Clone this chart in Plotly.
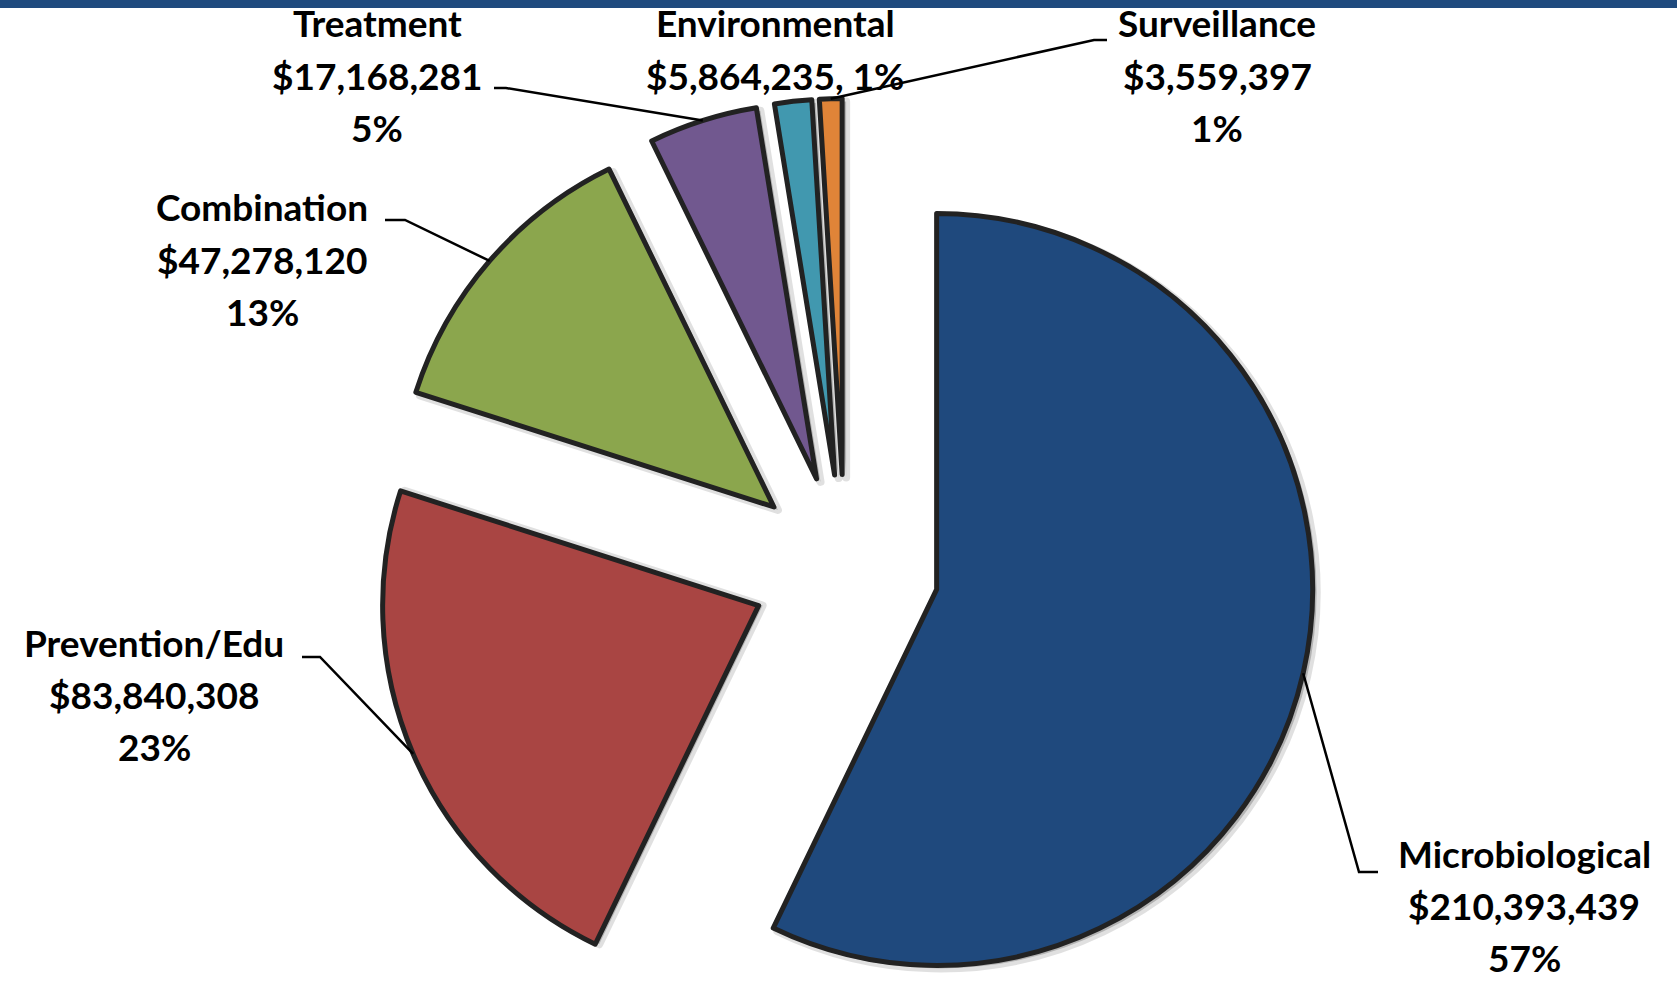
import math
import plotly.graph_objects as go

# ---- data -------------------------------------------------------------
categories = ["Microbiological", "Prevention/Edu", "Combination",
              "Treatment", "Environmental", "Surveillance"]
funding = [210393439, 83840308, 47278120, 17168281, 5864235, 3559397]
pct_labels = ["57%", "23%", "13%", "5%", "1%", "1%"]
colors = ["#1F497D", "#A94543", "#8BA64D", "#71588F", "#4198AF", "#E08438"]

# ---- geometry (pixels, origin top-left) ----------------------------------
W, H = 1677, 982
CX, CY = 845, 568.5    # common centre of the exploded pie
R = 376                # slice radius
PULL = 94              # explode distance of every slice
OUTLINE = "#222222"

total = sum(funding)
n = len(funding)

# mid angle of each slice, clockwise from 12 o'clock
mids = []
acc = 0.0
for v in funding:
    frac = v / total
    mids.append((acc + frac / 2) * 2 * math.pi)
    acc += frac


def unit(theta):
    return math.sin(theta), -math.cos(theta)


apex = []
for th in mids:
    ux, uy = unit(th)
    apex.append((CX + PULL * ux, CY + PULL * uy))


def px(x):
    return x / W


def py(y):
    return 1 - y / H


def clamp(v):
    return min(1.0, max(0.0, v))


def slice_trace(i, dx=0.0, dy=0.0, fill=None, line_color=OUTLINE, line_width=5.0):
    ax, ay = apex[i]
    ax += dx
    ay += dy
    dom_x = [clamp(px(ax - R)), clamp(px(ax + R))]
    dom_y = [clamp(py(ay + R)), clamp(py(ay - R))]
    fills = ["rgba(0,0,0,0)"] * n
    fills[i] = fill if fill is not None else colors[i]
    widths = [0] * n
    widths[i] = line_width
    return go.Pie(
        values=funding,
        labels=categories,
        sort=False,
        direction="clockwise",
        rotation=0,
        domain=dict(x=dom_x, y=dom_y),
        marker=dict(colors=fills, line=dict(color=line_color, width=widths)),
        textinfo="none",
        hoverinfo="label+value+percent",
        showlegend=False,
    )


fig = go.Figure()

# soft drop shadows first (kept inside the page), then the slices on top
for i in range(n):
    room = H - 0.5 - (apex[i][1] + R)
    sdy = max(0.0, min(3.0, room))
    fig.add_trace(slice_trace(i, dx=4, dy=sdy, fill="rgba(0,0,0,0.20)",
                              line_color="rgba(0,0,0,0.12)", line_width=8))
for i in range(n):
    fig.add_trace(slice_trace(i))

# ---- labels --------------------------------------------------------------
FONT = dict(family="Lato, Open Sans, sans-serif", size=37, color="#000000", weight="bold")
LINE_GAP = 52

# centre x and y of the first text line for each category
label_anchor = {
    "Microbiological": (1524, 853),
    "Prevention/Edu": (154, 642),
    "Combination": (262, 207),
    "Treatment": (377, 23),
    "Environmental": (775, 23),
    "Surveillance": (1217, 23),
}

# leader lines: points near the text, then the slice's outer edge
leader_start = {
    "Microbiological": [(1378, 872), (1359, 872)],
    "Prevention/Edu": [(302, 657), (320, 657)],
    "Combination": [(385, 220), (405, 220)],
    "Treatment": [(494, 88), (506, 88)],
    "Surveillance": [(1107, 40), (1094, 40)],
}

annotations = []
shapes = [
    dict(type="rect", xref="paper", yref="paper", x0=0, x1=1,
         y0=py(8), y1=1, fillcolor="#1F4A7E", line=dict(width=0), layer="above"),
]

for i, cat in enumerate(categories):
    money = "${:,}".format(funding[i])
    if cat == "Environmental":
        lines = [cat, money + ", " + pct_labels[i]]
    else:
        lines = [cat, money, pct_labels[i]]
    x0, y0 = label_anchor[cat]
    for k, t in enumerate(lines):
        annotations.append(dict(
            x=px(x0), y=py(y0 + k * LINE_GAP), xref="paper", yref="paper",
            text=t, showarrow=False, xanchor="center", yanchor="middle",
            font=FONT,
        ))
    if cat in leader_start:
        ux, uy = unit(mids[i])
        ex, ey = apex[i][0] + R * ux, apex[i][1] + R * uy
        pts = leader_start[cat] + [(ex, ey)]
        path = "M " + " L ".join(f"{px(a):.5f},{py(b):.5f}" for a, b in pts)
        shapes.append(dict(type="path", xref="paper", yref="paper", path=path,
                           line=dict(color="#000000", width=2.5), layer="above"))

fig.update_layout(
    width=W, height=H,
    margin=dict(l=0, r=0, t=0, b=0),
    paper_bgcolor="#FFFFFF",
    plot_bgcolor="#FFFFFF",
    showlegend=False,
    annotations=annotations,
    shapes=shapes,
)

fig.write_html("out.html")
